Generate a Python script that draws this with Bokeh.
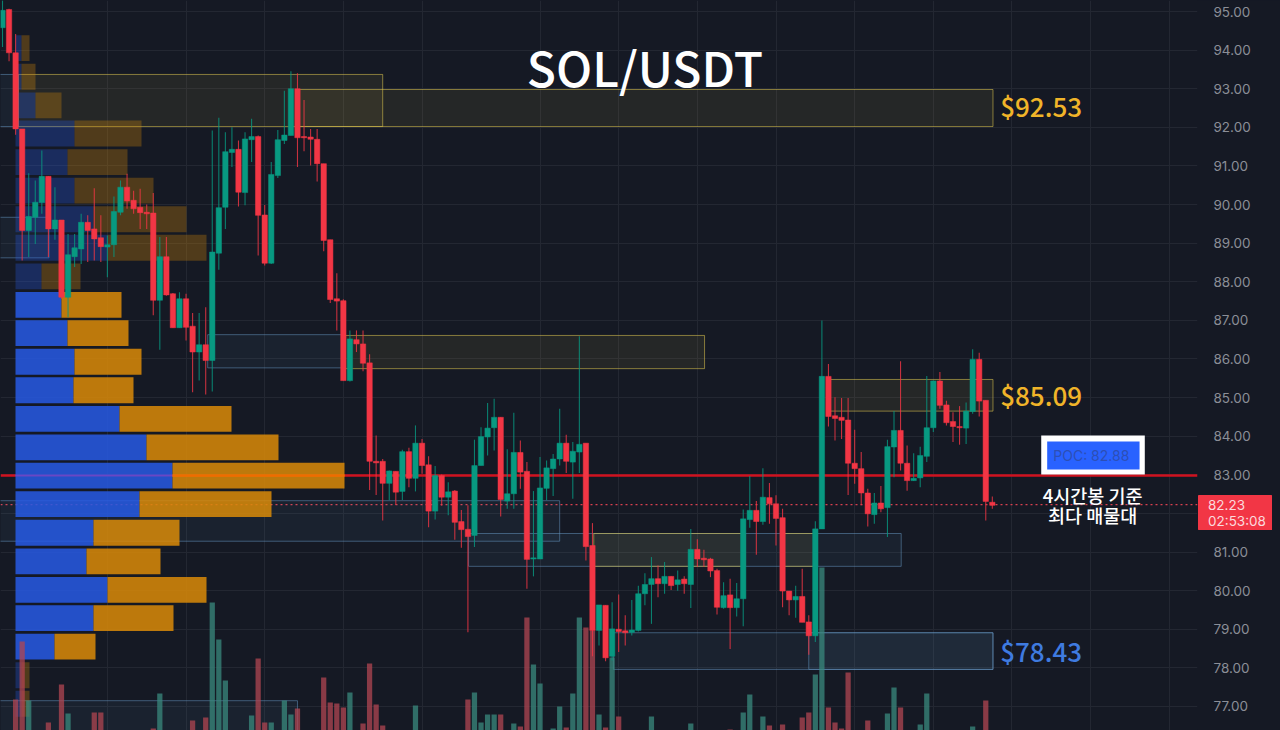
from bokeh.core.properties import value
from bokeh.embed import file_html
from bokeh.layouts import column
from bokeh.models import (
    ColumnDataSource,
    FixedTicker,
    LinearAxis,
    NumeralTickFormatter,
    Range1d,
    Span,
)
from bokeh.plotting import figure
from bokeh.resources import INLINE

BG = "#151924"
UP = "#089981"
DOWN = "#f23645"
VOL_UP = "#3a8a7e"
VOL_DOWN = "#b04552"
BUY = "#275be5"
SELL = "#db8b08"
YELLOW = "#e0c850"
BLUE = "#6a9cc8"
TITLE_FONT = "Noto Sans CJK KR Medium"

opens = [
    94.58, 95.05, 93.93, 91.96, 89.33, 89.67, 90.05, 90.73, 89.37, 89.60,
    87.60, 88.65, 88.85, 89.54, 89.37, 89.14, 88.90, 88.96, 89.80, 90.45,
    90.11, 89.93, 89.80, 89.78, 87.52, 88.65, 87.69, 86.81, 87.56, 86.85,
    86.18, 86.37, 85.96, 88.74, 89.93, 91.35, 91.43, 90.31, 91.68, 91.76,
    89.73, 88.48, 90.75, 91.66, 91.79, 93.00, 91.76, 91.75, 91.69, 91.06,
    89.09, 87.56, 87.51, 85.44, 86.50, 86.39, 85.90, 83.35, 83.35, 82.78,
    83.09, 82.57, 83.60, 82.91, 83.82, 83.26, 82.06, 82.98, 82.42, 82.58,
    81.79, 81.59, 81.43, 83.24, 83.98, 84.22, 84.49, 82.32, 82.51, 83.58,
    83.09, 80.82, 80.82, 82.65, 83.16, 83.41, 83.82, 83.33, 83.59, 83.82,
    81.17, 78.97, 79.62, 78.30, 79.00, 78.96, 78.92, 78.97, 79.92, 80.16,
    80.31, 80.18, 80.37, 80.16, 80.30, 80.16, 81.07, 80.84, 80.82, 80.52,
    79.56, 79.89, 79.56, 79.79, 81.84, 82.08, 81.79, 82.41, 82.25, 81.89,
    79.99, 79.76, 79.85, 79.19, 78.83, 81.60, 85.55, 84.53, 84.49, 84.42,
    83.30, 83.16, 82.53, 81.97, 82.27, 82.15, 83.72, 84.15, 83.30, 82.85,
    82.92, 83.48, 84.22, 85.43, 84.81, 84.38, 84.25, 84.21, 84.64, 85.99,
    84.93, 82.29,
]
highs = [
    95.29, 95.07, 94.42, 91.96, 90.81, 90.62, 91.40, 90.73, 90.45, 89.60,
    89.24, 89.24, 89.76, 89.72, 90.42, 89.72, 89.20, 90.21, 90.62, 90.80,
    90.36, 90.41, 90.00, 90.30, 89.16, 89.16, 87.71, 87.73, 87.69, 87.19,
    87.19, 87.34, 91.92, 92.25, 91.87, 92.00, 91.66, 91.87, 92.22, 91.79,
    89.99, 91.10, 91.93, 92.95, 93.45, 93.40, 92.71, 91.96, 91.96, 91.06,
    89.09, 88.22, 87.55, 86.74, 86.74, 86.74, 86.12, 84.02, 83.41, 83.11,
    83.09, 83.65, 83.70, 84.28, 83.93, 83.48, 83.23, 83.01, 82.81, 82.61,
    82.09, 82.21, 83.91, 84.23, 84.86, 84.97, 84.49, 83.66, 84.61, 83.89,
    83.33, 82.58, 83.46, 83.37, 83.54, 84.71, 84.04, 83.85, 86.59, 83.82,
    81.75, 79.63, 79.62, 79.70, 79.90, 79.36, 79.76, 80.13, 80.45, 80.87,
    80.65, 80.74, 80.37, 80.52, 80.37, 81.60, 81.33, 81.06, 80.85, 80.57,
    80.22, 80.31, 80.20, 82.10, 82.97, 82.32, 83.17, 82.79, 82.47, 82.12,
    79.99, 80.13, 80.57, 79.36, 81.80, 87.00, 85.87, 85.01, 84.99, 84.99,
    84.17, 83.59, 82.64, 82.53, 82.71, 83.91, 84.65, 85.94, 83.76, 83.56,
    83.73, 85.56, 85.44, 85.66, 84.92, 84.62, 84.78, 84.87, 86.25, 86.16,
    84.93, 82.44,
]
lows = [
    94.08, 93.71, 91.81, 88.55, 88.64, 88.98, 89.76, 88.64, 89.09, 87.56,
    87.08, 88.38, 88.46, 88.51, 88.55, 88.51, 88.12, 88.64, 89.72, 89.89,
    89.76, 89.37, 89.37, 87.13, 86.24, 87.64, 86.81, 86.81, 86.48, 85.14,
    85.44, 85.08, 85.16, 88.31, 89.37, 90.97, 89.95, 89.98, 91.10, 88.68,
    88.42, 88.46, 90.69, 91.57, 91.79, 90.97, 91.38, 91.01, 90.60, 88.79,
    87.45, 86.74, 85.44, 85.42, 86.18, 85.68, 82.61, 82.48, 81.82, 82.34,
    82.22, 82.35, 82.68, 82.57, 83.03, 81.64, 81.84, 82.20, 81.95, 81.32,
    81.11, 78.92, 81.13, 83.24, 83.50, 83.63, 81.92, 82.12, 82.12, 82.64,
    80.05, 80.37, 80.82, 82.34, 82.45, 83.24, 83.05, 82.38, 83.05, 80.78,
    78.30, 78.58, 78.17, 78.19, 78.41, 78.58, 78.84, 78.94, 79.62, 79.14,
    79.83, 79.92, 80.02, 80.00, 79.92, 79.55, 80.61, 80.61, 80.35, 79.38,
    79.53, 78.49, 79.33, 79.08, 81.63, 80.93, 81.71, 81.73, 81.17, 79.57,
    79.36, 79.30, 79.18, 78.34, 78.67, 81.60, 84.25, 83.89, 83.93, 82.48,
    82.77, 82.21, 81.66, 81.73, 82.03, 81.39, 82.94, 83.11, 82.59, 82.84,
    82.68, 83.33, 84.11, 84.71, 84.28, 83.85, 83.78, 83.80, 84.58, 84.51,
    81.82, 82.12,
]
closes = [
    95.03, 93.93, 91.96, 89.33, 89.69, 90.06, 90.73, 89.37, 89.60, 87.60,
    88.70, 88.88, 89.54, 89.33, 89.11, 88.91, 88.96, 89.82, 90.45, 90.09,
    89.89, 89.79, 89.76, 87.52, 88.65, 87.66, 86.81, 87.56, 86.82, 86.18,
    86.37, 85.96, 88.77, 89.92, 91.37, 91.43, 90.32, 91.70, 91.76, 89.72,
    88.48, 90.78, 91.68, 91.80, 93.00, 91.73, 91.73, 91.69, 91.06, 89.07,
    87.54, 87.50, 85.44, 86.52, 86.39, 85.89, 83.35, 83.31, 82.78, 83.10,
    82.55, 83.60, 82.91, 83.82, 83.24, 82.06, 82.98, 82.42, 82.56, 81.77,
    81.58, 81.40, 83.24, 83.99, 84.21, 84.49, 82.36, 82.51, 83.58, 83.07,
    80.81, 80.85, 82.66, 83.18, 83.41, 83.82, 83.35, 83.61, 83.79, 81.14,
    78.97, 79.63, 78.26, 79.01, 78.94, 78.91, 78.98, 79.92, 80.16, 80.31,
    80.18, 80.37, 80.13, 80.28, 80.18, 81.07, 80.82, 80.80, 80.51, 79.57,
    79.87, 79.56, 79.79, 81.86, 82.08, 81.79, 82.42, 82.25, 81.87, 79.99,
    79.76, 79.85, 79.18, 78.83, 81.60, 85.55, 84.51, 84.46, 84.41, 83.30,
    83.16, 82.53, 81.99, 82.27, 82.12, 83.73, 84.15, 83.30, 82.85, 82.91,
    83.50, 84.22, 85.43, 84.80, 84.35, 84.25, 84.22, 84.65, 85.99, 84.91,
    82.31, 82.21,
]
volumes = [
    0, 0, 31, 89, 30, 0, 0, 8, 0, 46,
    17, 0, 0, 0, 18, 18, 0, 0, 0, 0,
    0, 0, 0, 2, 37, 0, 0, 0, 0, 10,
    0, 13, 128, 91, 50, 0, 0, 0, 15, 72,
    8, 8, 0, 30, 16, 22, 0, 0, 0, 53,
    28, 27, 23, 38, 0, 7, 67, 26, 5, 0,
    0, 0, 0, 25, 0, 0, 0, 0, 0, 0,
    0, 31, 38, 8, 16, 16, 16, 0, 7, 4,
    113, 66, 47, 0, 2, 24, 3, 37, 113, 103,
    100, 16, 3, 73, 14, 0, 0, 0, 0, 14,
    0, 0, 0, 0, 0, 7, 0, 0, 0, 0,
    0, 1, 0, 18, 36, 0, 14, 5, 0, 6,
    0, 0, 13, 18, 56, 163, 23, 8, 2, 58,
    0, 0, 10, 0, 0, 17, 43, 23, 0, 0,
    6, 37, 0, 0, 0, 0, 0, 0, 4, 0,
    30, 0,
]

# volume profile rows, top to bottom
profile_prices = [
    94.05, 93.31, 92.57, 91.84, 91.10, 90.36, 89.62, 88.88, 88.14, 87.40, 86.67, 85.93,
    85.19, 84.45, 83.71, 82.98, 82.24, 81.50, 80.76, 80.02, 79.29, 78.55, 77.81, 77.07,
]
profile_buy = [6, 6, 20, 59, 52, 59, 78, 92, 26, 46, 52, 59, 58, 104, 131, 157, 124, 78, 71, 92, 78, 39, 6, 6]
profile_sell = [8, 14, 26, 67, 60, 79, 93, 99, 39, 60, 61, 67, 60, 112, 132, 172, 132, 86, 74, 99, 80, 41, 8, 8]
value_area = (78.2, 87.8)

# boxes drawn on the chart, bar number and price
yellow_left = [2.4, 45, 52.3, 126, 90.2, 119]
yellow_right = [58, 151.1, 107.1, 151.1, 113.3, 124]
yellow_top = [93.37, 92.98, 86.61, 85.47, 81.48, 81.48]
yellow_bottom = [92.02, 92.02, 85.75, 84.65, 80.63, 80.63]

blue_left = [31.3, 71.1, -1, -1, 93.2, 123, -1, -1]
blue_right = [51.9, 137.1, 85, 7.1, 151.1, 151.1, 45, 2.4]
blue_top = [86.63, 81.48, 82.33, 89.67, 78.91, 78.91, 77.15, 93.37]
blue_bottom = [85.77, 80.63, 81.28, 88.62, 77.96, 77.96, 76.2, 92.02]

grid_ticks = [77, 78, 79, 80, 81, 82, 83, 84, 85, 86, 87, 88, 89, 90, 91, 92, 93, 94, 95]
axis_ticks = [77, 78, 79, 80, 81, 83, 84, 85, 86, 87, 88, 89, 90, 91, 92, 93, 94, 95]
time_ticks = [16, 28, 40, 52, 64, 82, 94, 106, 118, 130, 142, 154, 166, 178]

poc = 82.98
last_price = 82.23
tag_texts = ["82.23", "02:53:08"]

bars = list(range(len(opens)))
colours = [UP if c >= o else DOWN for o, c in zip(opens, closes)]
vol_colours = [VOL_UP if c >= o else VOL_DOWN for o, c in zip(opens, closes)]
candles = ColumnDataSource(
    data=dict(
        x=bars,
        open=opens,
        high=highs,
        low=lows,
        close=closes,
        colour=colours,
        vol_colour=vol_colours,
        volume=volumes,
    )
)

p = figure(
    width=1280,
    height=730,
    x_range=Range1d(-0.305, 182.3),
    y_range=Range1d(76.378, 95.285),
    toolbar_location=None,
    tools="",
    output_backend="svg",
    background_fill_color=BG,
    border_fill_color=BG,
    min_border_left=0,
    min_border_right=83,
    min_border_top=0,
    min_border_bottom=0,
    y_axis_location=None,
    styles={"position": "fixed", "left": "0px", "top": "0px", "background-color": BG},
)
p.outline_line_color = BG
p.extra_y_ranges = {"volume": Range1d(0, 730)}
p.extra_x_ranges = {"profile": Range1d(-15, 1182)}

axis = LinearAxis(
    ticker=FixedTicker(ticks=axis_ticks),
    formatter=NumeralTickFormatter(format="0.00"),
    axis_line_color=None,
    major_tick_line_color=None,
    minor_tick_line_color=None,
    major_label_text_color="#8b8e97",
    major_label_text_font="Inter",
    major_label_text_font_size="13.5px",
    major_label_standoff=10,
)
p.add_layout(axis, "right")
p.xaxis.visible = False
p.xgrid.ticker = FixedTicker(ticks=time_ticks)
p.xgrid.grid_line_color = "#232732"
p.ygrid.ticker = FixedTicker(ticks=grid_ticks)
p.ygrid.grid_line_color = "#232732"

# zones
p.quad(
    left=blue_left,
    right=blue_right,
    top=blue_top,
    bottom=blue_bottom,
    fill_color=BLUE,
    fill_alpha=0.07,
    line_color=BLUE,
    line_alpha=0.5,
    line_width=1,
)
p.quad(
    left=yellow_left,
    right=yellow_right,
    top=yellow_top,
    bottom=yellow_bottom,
    fill_color=YELLOW,
    fill_alpha=0.08,
    line_color=YELLOW,
    line_alpha=0.55,
    line_width=1,
)

# POC and last price, under the profile and the candles
p.add_layout(Span(location=poc, dimension="width", line_color="#d0121f", line_width=2.5, level="underlay"))
p.add_layout(
    Span(
        location=last_price,
        dimension="width",
        line_color="#d8404f",
        line_width=1.2,
        line_dash="2 3",
        level="underlay",
    )
)

# profile, dimmer outside the value area
for inside, alpha in ((True, 0.85), (False, 0.3)):
    rows = [i for i, price in enumerate(profile_prices) if (value_area[0] < price < value_area[1]) == inside]
    y = [profile_prices[i] for i in rows]
    buy = [profile_buy[i] for i in rows]
    total = [profile_buy[i] + profile_sell[i] for i in rows]
    p.hbar(y=y, left=0, right=buy, height=0.67, x_range_name="profile", fill_color=BUY, fill_alpha=alpha, line_color=None)
    p.hbar(y=y, left=buy, right=total, height=0.67, x_range_name="profile", fill_color=SELL, fill_alpha=alpha, line_color=None)

# the POC row shows the line through it
poc_row = profile_prices.index(poc)
p.hbar(y=[poc], left=0, right=[profile_buy[poc_row]], height=0.04, x_range_name="profile", fill_color="#6a46c4", line_color=None)
p.hbar(
    y=[poc],
    left=[profile_buy[poc_row]],
    right=[profile_buy[poc_row] + profile_sell[poc_row]],
    height=0.06,
    x_range_name="profile",
    fill_color="#ef6c00",
    line_color=None,
)

p.vbar(
    x="x",
    top="volume",
    bottom=0,
    width=0.8,
    source=candles,
    y_range_name="volume",
    fill_color="vol_colour",
    fill_alpha=0.75,
    line_color=None,
)

p.segment(x0="x", x1="x", y0="low", y1="high", source=candles, line_color="colour", line_width=1.1, line_alpha=0.8)
p.vbar(x="x", top="open", bottom="close", width=0.82, source=candles, fill_color="colour", line_color="colour", line_width=0.5)

# POC callout
p.quad(left=158.46, right=174.26, top=84.02, bottom=83.01, fill_color="white", line_color=None)
p.quad(left=159.37, right=173.46, top=83.86, bottom=83.14, fill_color="#2962ff", line_color=None)
p.text(
    x=[166.1],
    y=[83.49],
    text=["POC: 82.88"],
    text_color="#2d4fb5",
    text_font=value("Inter"),
    text_font_size="14px",
    text_align="center",
    text_baseline="middle",
)

p.text(
    x=[98],
    y=[93.6],
    text=["SOL/USDT"],
    text_color="white",
    text_font=value(TITLE_FONT),
    text_font_size="48px",
    text_align="center",
    text_baseline="middle",
)
p.text(
    x=[152.2, 152.2],
    y=[92.56, 85.08],
    text=["$92.53", "$85.09"],
    text_color="#f0b429",
    text_font=value(TITLE_FONT),
    text_font_size="26px",
    text_baseline="middle",
)
p.text(
    x=[152.2],
    y=[78.44],
    text=["$78.43"],
    text_color="#3f7be0",
    text_font=value(TITLE_FONT),
    text_font_size="26px",
    text_baseline="middle",
)
p.text(
    x=[166.3, 166.3],
    y=[82.49, 81.97],
    text=["4시간봉 기준", "최다 매물대"],
    text_color="white",
    text_font=value(TITLE_FONT),
    text_font_size="18.5px",
    text_align="center",
    text_baseline="middle",
)

# last price tag sits over the axis, where the chart's own glyphs get clipped
tag = figure(
    width=74,
    height=35,
    frame_width=74,
    frame_height=35,
    x_range=Range1d(0, 74),
    y_range=Range1d(0, 35),
    toolbar_location=None,
    tools="",
    output_backend="svg",
    background_fill_color=DOWN,
    border_fill_color=DOWN,
    min_border=0,
    x_axis_location=None,
    y_axis_location=None,
    styles={"position": "fixed", "left": "1198px", "top": "495px"},
)
tag.outline_line_color = DOWN
tag.grid.visible = False
tag.text(
    x=[9.5, 9.5],
    y=[26, 10],
    text=tag_texts,
    text_color="#fbdadd",
    text_font=value("Inter"),
    text_font_size="13.5px",
    text_baseline="middle",
)

page = column(p, tag)
open("out.html", "w").write(file_html(page, INLINE))
